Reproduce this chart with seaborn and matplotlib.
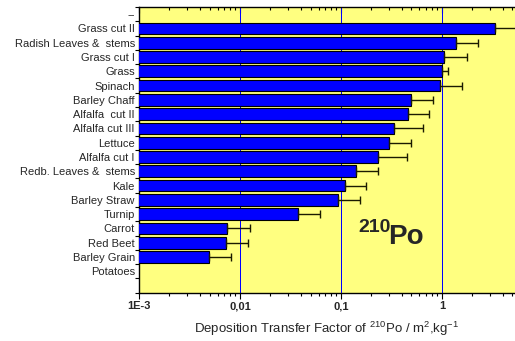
import numpy as np
import pandas as pd
import matplotlib
matplotlib.use("Agg")
import matplotlib.pyplot as plt
from matplotlib.ticker import FixedLocator, LogLocator, NullFormatter
import seaborn as sns

categories = ["--", "Grass cut II", "Radish Leaves &  stems", "Grass cut I", "Grass",
              "Spinach", "Barley Chaff", "Alfalfa  cut II", "Alfalfa cut III", "Lettuce",
              "Alfalfa cut I", "Redb. Leaves &  stems", "Kale", "Barley Straw", "Turnip",
              "Carrot", "Red Beet", "Barley Grain", "Potatoes"]
values = [np.nan, 3.35, 1.37, 1.05, 1.00, 0.95, 0.49, 0.457, 0.337, 0.30,
          0.232, 0.141, 0.109, 0.093, 0.038, 0.0075, 0.0072, 0.0049, np.nan]
upper = [np.nan, 6.5, 2.29, 1.77, 1.15, 1.58, 0.81, 0.74, 0.65, 0.50,
         0.45, 0.234, 0.178, 0.154, 0.0624, 0.0126, 0.0119, 0.0082, np.nan]
xtick_vals = [0.001, 0.01, 0.1, 1]
xtick_labels = ["1E-3", "0,01", "0,1", "1"]

sns.set_theme(style="white")
plt.rcParams["font.family"] = ["Liberation Sans", "DejaVu Sans"]
plt.rcParams["mathtext.fontset"] = "custom"
plt.rcParams["mathtext.rm"] = "Liberation Sans"
plt.rcParams["mathtext.it"] = "Liberation Sans"
plt.rcParams["mathtext.bf"] = "Liberation Sans:bold"

fig = plt.figure(figsize=(5.15, 3.41), dpi=100)
ax = fig.add_axes([139 / 515, 1 - 292.7 / 341, (515 - 139) / 515, (292.7 - 7) / 341])
ax.set_facecolor("#FFFF80")
ax.set_xscale("log")

df = pd.DataFrame({"cat": categories, "val": values}).dropna()
sns.barplot(data=df, x="val", y="cat", order=categories, orient="h", ax=ax,
            color="#0000FF", saturation=1, width=0.82, errorbar=None)
for p in ax.patches:
    p.set_facecolor("#0000FF")
    p.set_edgecolor("black")
    p.set_linewidth(0.8)
    p.set_zorder(3)

pos = np.arange(len(categories))
v = np.array(values)
u = np.array(upper)
mask = ~np.isnan(v)
ax.errorbar(v[mask], pos[mask], xerr=[np.zeros(mask.sum()), u[mask] - v[mask]],
            fmt="none", ecolor="#1a1a00", elinewidth=1, capsize=3, capthick=1, zorder=3.5)

ax.set_xlim(0.001, 5.3)
ax.set_ylim(len(categories) + 0.5, -0.5)

for xv in [0.01, 0.1, 1]:
    ax.axvline(xv, color="#0000FF", lw=0.72, zorder=2.5, snap=True)

ax.xaxis.set_major_locator(FixedLocator(xtick_vals))
ax.set_xticklabels(xtick_labels, fontweight="bold", fontsize=8)
ax.xaxis.set_minor_locator(LogLocator(base=10, subs=np.arange(2, 10)))
ax.xaxis.set_minor_formatter(NullFormatter())
ax.tick_params(axis="x", which="major", direction="out", length=4, width=0.8,
               color="black", bottom=True, top=True, pad=2)
ax.tick_params(axis="x", which="minor", direction="out", length=2.5, width=0.8,
               color="black", bottom=True, top=True)
for t in ax.xaxis.get_major_ticks() + ax.xaxis.get_minor_ticks():
    t.tick2line.set_marker(matplotlib.lines.TICKDOWN)

ax.set_yticks(pos)
ax.set_yticklabels(categories, fontsize=8)
ax.yaxis.set_minor_locator(FixedLocator(np.arange(-0.5, len(categories) + 0.6, 1.0)))
ax.tick_params(axis="y", which="major", length=0, pad=3)
ax.tick_params(axis="y", which="minor", direction="out", length=3, width=0.8,
               color="black", left=True)

for s in ["left", "bottom", "top"]:
    ax.spines[s].set_color("black")
    ax.spines[s].set_linewidth(1.0)
ax.spines["right"].set_visible(False)

ax.set_ylabel("")
ax.set_xlabel(r"Deposition Transfer Factor of $^{210}$Po / m$^{2}$,kg$^{-1}$",
              fontsize=9.5, labelpad=6)

fig.text(358 / 515, 1 - 232 / 341, "210", fontsize=14, fontweight="bold", ha="left", va="baseline")
fig.text(388 / 515, 1 - 244 / 341, "Po", fontsize=20, fontweight="bold", ha="left", va="baseline")

fig.savefig("out.png", dpi=100)
